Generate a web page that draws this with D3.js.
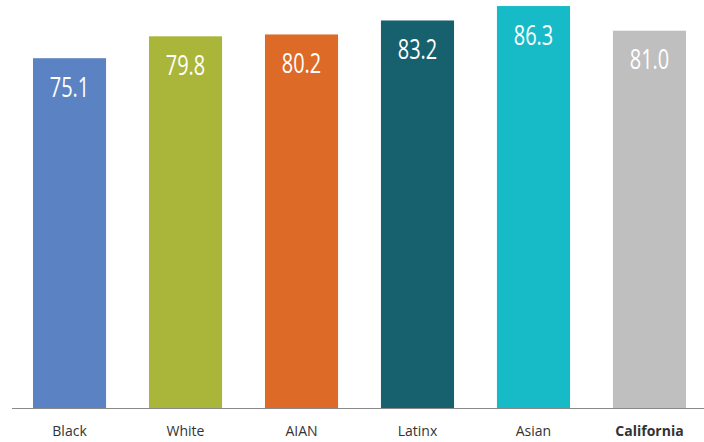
<!DOCTYPE html>
<html><head><meta charset="utf-8">
<script src="https://cdn.jsdelivr.net/npm/d3@7"></script>
<style>body{margin:0;background:#fff;} svg{display:block;}</style>
</head><body>
<svg id="chart" width="704" height="442"></svg>
<script>
const categories = ["Black", "White", "AIAN", "Latinx", "Asian", "California"];
const values = [75.1, 79.8, 80.2, 83.2, 86.3, 81.0];
const colors = ["#5B82C3", "#A9B63A", "#DD6A27", "#17606D", "#17BBC7", "#BFBFBF"];

const svg = d3.select("#chart");
const x = d3.scaleBand().domain(categories).range([12, 707]).paddingInner(0.37).paddingOuter(0.181);
const y = d3.scaleLinear().domain([0, 90]).range([408, -11.2]);

svg.selectAll("rect.bar").data(categories).join("rect")
  .attr("class", "bar")
  .attr("x", d => x(d))
  .attr("width", x.bandwidth())
  .attr("y", (d, i) => y(values[i]))
  .attr("height", (d, i) => y(0) - y(values[i]))
  .attr("fill", (d, i) => colors[i]);

svg.selectAll("text.val").data(categories).join("text")
  .attr("class", "val")
  .attr("transform", (d, i) => `translate(${x(d) + x.bandwidth() / 2},${y(values[i]) + 38.5}) scale(0.74,1)`)
  .attr("text-anchor", "middle")
  .attr("fill", "#fff")
  .style("font-family", "'Open Sans', sans-serif")
  .style("font-size", "27px")
  .text((d, i) => values[i].toFixed(1));

const axis = d3.axisBottom(x).tickSize(0).tickPadding(18);
const g = svg.append("g").attr("transform", `translate(0,${y(0)})`).call(axis);
g.select(".domain").attr("d", "M12,0.5H704").attr("stroke", "#8a8a8a").attr("stroke-width", 1);
g.selectAll(".tick text")
  .style("font-family", "'Open Sans', sans-serif")
  .style("font-size", "14px")
  .attr("fill", "#333")
  .style("font-weight", d => d === "California" ? "bold" : "normal");
</script>
</body></html>
